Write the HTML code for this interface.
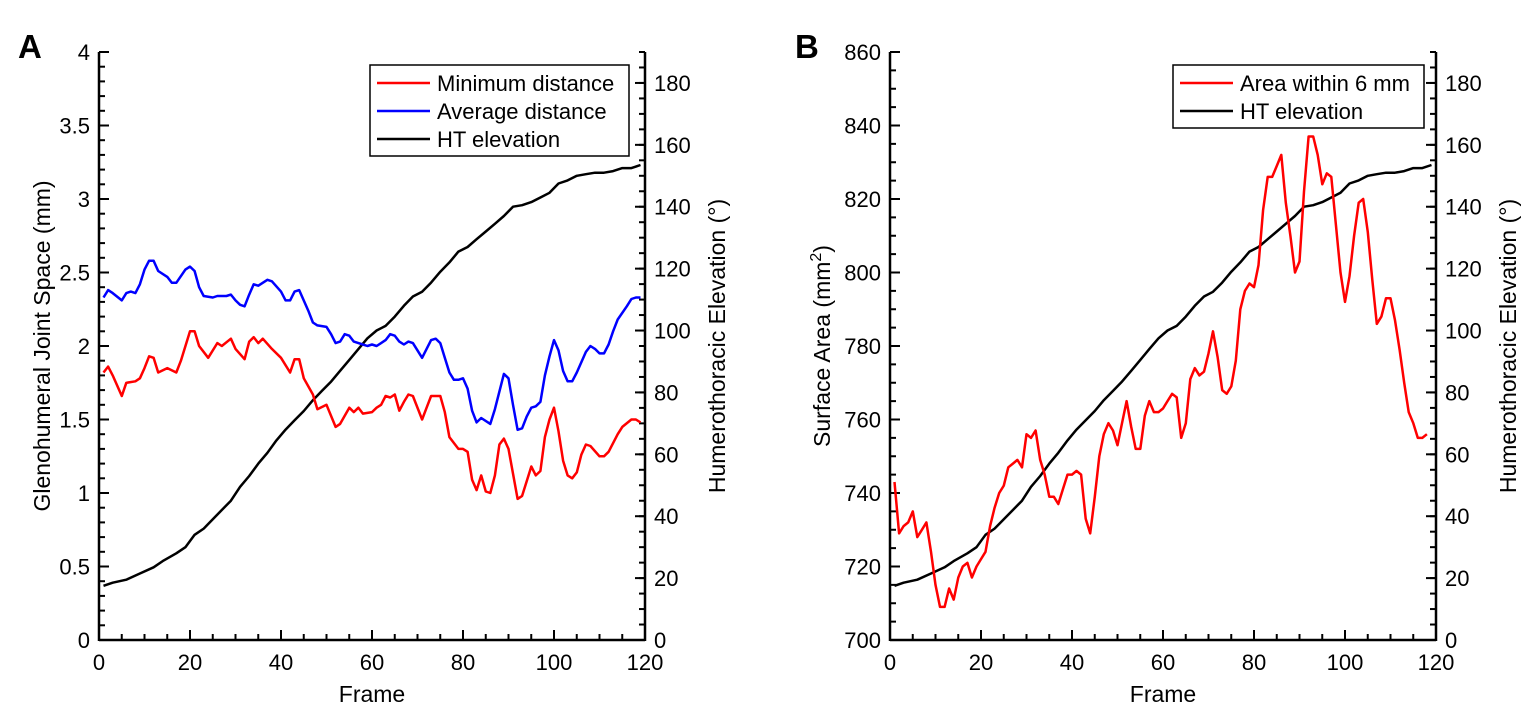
<!DOCTYPE html>
<html><head><meta charset="utf-8"><style>
body{margin:0;background:#fff;width:1540px;height:718px;overflow:hidden}
svg{font-family:"Liberation Sans",sans-serif}
</style></head><body>
<svg id="chart" width="1540" height="718"></svg>
<script>
const htFrames=[1,3,6,9,12,14,17,19,21,23,25,27,29,31,33,35,37,39,41,43,45,47,49,51,53,55,57,59,61,63,65,67,69,71,73,75,77,79,81,83,85,87,89,91,93,95,97,99,101,103,105,107,109,111,113,115,117,119];
const htValues=[17.5,18.5,19.5,21.5,23.5,25.5,28,30,34,36,39,42,45,49.5,53,57,60.5,64.5,68,71,74,77.5,80.5,83.5,87,90.5,94,97.5,100,101.5,104.5,108,111,112.5,115.5,119,122,125.5,127,129.5,132,134.5,137,140,140.5,141.5,143,144.5,147.5,148.5,150,150.5,151,151,151.5,152.5,152.5,153.5];
const minFrames=[1,2,3,5,6,8,9,10,11,12,13,15,17,18,20,21,22,24,26,27,29,30,32,33,34,35,36,38,40,42,43,44,45,47,48,50,52,53,55,56,57,58,60,61,62,63,64,65,66,67,68,69,71,72,73,75,76,77,79,80,81,82,83,84,85,86,87,88,89,90,92,93,94,95,96,97,98,99,100,101,102,103,104,105,106,107,108,110,111,112,114,115,117,118,119];
const minValues=[1.82,1.86,1.8,1.66,1.75,1.76,1.78,1.85,1.93,1.92,1.82,1.85,1.82,1.9,2.1,2.1,2,1.92,2.02,2,2.05,1.98,1.91,2.03,2.06,2.02,2.05,1.98,1.92,1.82,1.91,1.91,1.78,1.67,1.57,1.6,1.45,1.47,1.58,1.55,1.58,1.54,1.55,1.58,1.6,1.66,1.65,1.67,1.56,1.62,1.67,1.66,1.5,1.58,1.66,1.66,1.55,1.38,1.3,1.3,1.28,1.09,1.02,1.12,1.01,1,1.12,1.33,1.37,1.3,0.96,0.98,1.08,1.18,1.12,1.15,1.38,1.5,1.58,1.42,1.22,1.12,1.1,1.14,1.26,1.33,1.32,1.25,1.25,1.28,1.4,1.45,1.5,1.5,1.48];
const avgFrames=[1,2,3,5,6,7,8,9,10,11,12,13,15,16,17,19,20,21,22,23,25,26,28,29,30,31,32,33,34,35,37,38,40,41,42,43,44,46,47,48,50,51,52,53,54,55,56,57,58,59,60,61,63,64,65,66,67,68,69,70,71,72,73,74,75,76,77,78,79,80,81,82,83,84,86,87,89,90,91,92,93,94,95,96,97,98,99,100,101,102,103,104,105,107,108,109,110,111,112,113,114,116,117,118,119];
const avgValues=[2.33,2.38,2.36,2.31,2.36,2.37,2.36,2.42,2.52,2.58,2.58,2.51,2.47,2.43,2.43,2.52,2.54,2.51,2.4,2.34,2.33,2.34,2.34,2.35,2.31,2.28,2.27,2.35,2.42,2.41,2.45,2.44,2.37,2.31,2.31,2.37,2.38,2.24,2.16,2.14,2.13,2.08,2.02,2.03,2.08,2.07,2.03,2.02,2.01,2,2.01,2,2.04,2.08,2.07,2.03,2.01,2.03,2.02,1.97,1.92,1.98,2.04,2.05,2.02,1.92,1.82,1.77,1.77,1.78,1.71,1.56,1.48,1.51,1.47,1.57,1.81,1.78,1.6,1.43,1.44,1.52,1.58,1.59,1.62,1.8,1.93,2.04,1.97,1.83,1.76,1.76,1.82,1.96,2,1.98,1.95,1.95,2.01,2.1,2.18,2.27,2.32,2.33,2.33];
const areaValues=[743,729,731,732,735,728,730,732,724,715,709,709,714,711,717,720,721,717,720,722,724,731,736,740,742,747,748,749,747,756,755,757,749,745,739,739,737,741,745,745,746,745,733,729,739,750,756,759,757,753,759,765,758,752,752,761,765,762,762,763,765,767,766,755,759,771,774,772,773,778,784,777,768,767,769,776,790,795,797,796,802,817,826,826,829,832,819,810,800,803,822,837,837,832,824,827,826,813,800,792,799,810,819,820,811,798,786,788,793,793,787,779,770,762,759,755,755,756];
const areaFrames=areaValues.map((v,i)=>i+1);
const xTicks=[0,20,40,60,80,100,120];
const aLeftTicks=[0,0.5,1,1.5,2,2.5,3,3.5,4];
const bLeftTicks=[700,720,740,760,780,800,820,840,860];
const rightTicks=[0,20,40,60,80,100,120,140,160,180];

const NS="http://www.w3.org/2000/svg";
const svg=document.getElementById('chart');
function el(tag,attrs,parent,text){const e=document.createElementNS(NS,tag);for(const k in attrs)e.setAttribute(k,attrs[k]);if(text!==undefined)e.textContent=text;(parent||svg).appendChild(e);return e;}
const T=52,B=640;
function panel(L,R,yMin,yMax,leftTicks,minorStep,fmt,name){
  const g=el('g',{});
  
  
  const sx=f=>L+(R-L)*f/120;
  const sy=v=>B-(B-T)*(v-yMin)/(yMax-yMin);
  const sr=v=>B-(B-T)*v/190;
  for(let v=yMin;v<=yMax+1e-9;v+=minorStep){const y=sy(v);el('line',{x1:L,x2:L+6,y1:y,y2:y,stroke:'#000','stroke-width':2},g);}
  for(let d=0;d<=190;d+=5){const y=sr(d);el('line',{x1:R-6,x2:R,y1:y,y2:y,stroke:'#000','stroke-width':2},g);}
  for(let f=0;f<=120;f+=5){const x=sx(f);el('line',{x1:x,x2:x,y1:B,y2:B-6,stroke:'#000','stroke-width':2},g);}
  leftTicks.forEach(v=>{const y=sy(v);el('line',{x1:L,x2:L+10,y1:y,y2:y,stroke:'#000','stroke-width':2},g);
    const t=el('text',{x:L-9,y:y+8,'font-size':22,'text-anchor':'end'},g,fmt(v));});
  rightTicks.forEach(v=>{const y=sr(v);el('line',{x1:R-10,x2:R,y1:y,y2:y,stroke:'#000','stroke-width':2},g);
    const t=el('text',{x:R+9,y:y+8,'font-size':22},g,String(v));});
  xTicks.forEach(v=>{const x=sx(v);el('line',{x1:x,x2:x,y1:B,y2:B-10,stroke:'#000','stroke-width':2},g);
    const t=el('text',{x:x,y:B+30,'font-size':22,'text-anchor':'middle'},g,String(v));});
  el('line',{x1:L,x2:L,y1:T,y2:B+1,stroke:'#000','stroke-width':2.5},g);
  el('line',{x1:R,x2:R,y1:T,y2:B+1,stroke:'#000','stroke-width':2.5},g);
  el('line',{x1:L,x2:R,y1:B,y2:B,stroke:'#000','stroke-width':2.5},g);
  const xt=el('text',{x:(L+R)/2,y:B+62,'font-size':23,'text-anchor':'middle'},g,'Frame');
  
  const rt=el('text',{transform:`translate(${R+80},${(T+B)/2}) rotate(-90)`,'font-size':23,'text-anchor':'middle'},g,'Humerothoracic Elevation (°)');
  
  return {g,sx,sy,sr};
}
function line(p,frames,vals,scale,color,name){
  const d=frames.map((f,i)=>(i?'L':'M')+p.sx(f).toFixed(1)+','+scale(vals[i]).toFixed(1)).join('');
  const e=el('path',{d:d,fill:'none',stroke:color,'stroke-width':2.5,'stroke-linejoin':'round'},p.g);
  
  
}
function legend(p,x,y,w,entries,name){
  const lg=el('g',{},p.g);
  
  
  el('rect',{x:x,y:y,width:w,height:entries.length*28+7,fill:'#fff',stroke:'#000','stroke-width':1.5},lg);
  entries.forEach((en,i)=>{const yy=y+18+i*28;
    const item=el('g',{},lg);
    
    
    el('line',{x1:x+7,x2:x+60,y1:yy,y2:yy,stroke:en[1],'stroke-width':2.5},item);
    el('text',{x:x+67,y:yy+8,'font-size':22},item,en[0]);});
}
// Panel A
const A=panel(99,645,0,4,aLeftTicks,0.1,v=>String(v),'panel-a');
const at=el('text',{transform:`translate(50,${(T+B)/2}) rotate(-90)`,'font-size':23,'text-anchor':'middle'},A.g,'Glenohumeral Joint Space (mm)');

line(A,htFrames,htValues,A.sr,'#000','ht-elevation-line-a');
line(A,avgFrames,avgValues,A.sy,'#0000ff','average-distance-line');
line(A,minFrames,minValues,A.sy,'#ff0000','minimum-distance-line');
legend(A,370,65,259,[['Minimum distance','#ff0000'],['Average distance','#0000ff'],['HT elevation','#000']],'legend-a');
const la=el('text',{x:18,y:58,'font-size':33,'font-weight':'bold'},A.g,'A');

// Panel B
const Bp=panel(890,1436,700,860,bLeftTicks,5,v=>String(v),'panel-b');
const bt=el('text',{transform:`translate(830,${(T+B)/2}) rotate(-90)`,'font-size':23,'text-anchor':'middle'},Bp.g);

bt.appendChild(document.createTextNode('Surface Area (mm'));
el('tspan',{dy:-9,'font-size':16},bt,'2');
el('tspan',{dy:9},bt,')');
line(Bp,htFrames,htValues,Bp.sr,'#000','ht-elevation-line-b');
line(Bp,areaFrames,areaValues,Bp.sy,'#ff0000','area-within-6mm-line');
legend(Bp,1173,65,251,[['Area within 6 mm','#ff0000'],['HT elevation','#000']],'legend-b');
const lb=el('text',{x:795,y:58,'font-size':33,'font-weight':'bold'},Bp.g,'B');

</script>
</body></html>
